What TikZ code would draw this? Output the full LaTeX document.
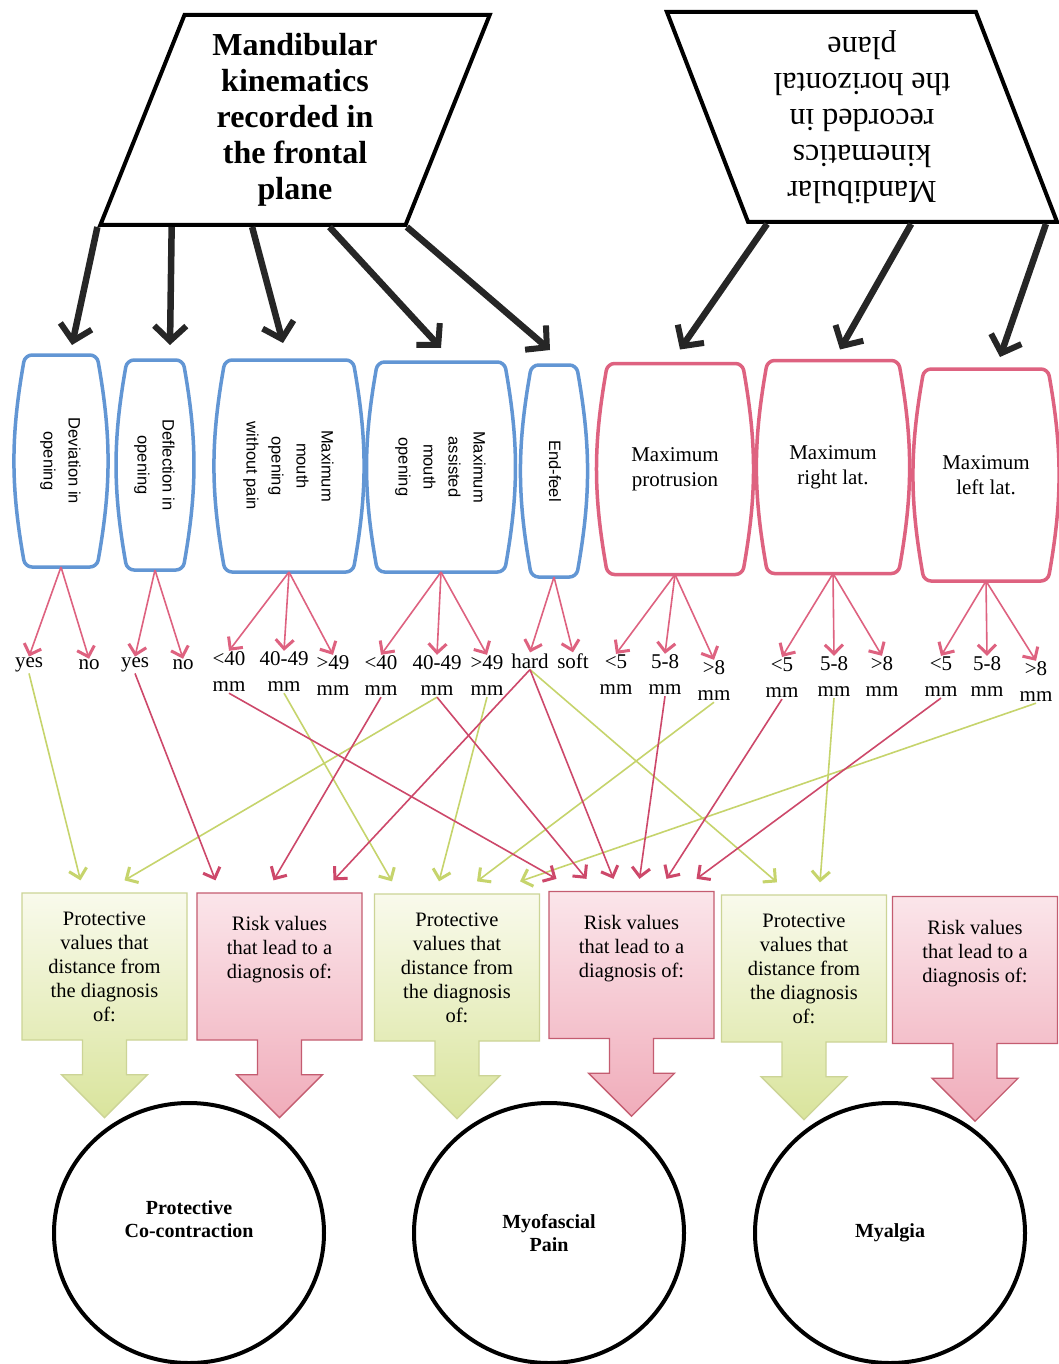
\documentclass[tikz,border=0pt]{standalone}
\usepackage{fontspec}
\setmainfont{Liberation Serif}
\newfontfamily\arialfont{Liberation Sans}
\usetikzlibrary{positioning,calc,arrows.meta,shapes.geometric,shapes.arrows}
\definecolor{kdark}{RGB}{38,38,38}
\definecolor{kblue}{RGB}{98,150,212}
\definecolor{kpink}{RGB}{222,98,128}
\definecolor{kred}{RGB}{205,72,106}
\definecolor{kgreen}{RGB}{198,212,108}
\definecolor{pfill}{RGB}{249,250,236}
\definecolor{pdraw}{RGB}{204,212,150}
\definecolor{parr}{RGB}{222,232,168}
\definecolor{rfill}{RGB}{248,212,220}
\definecolor{rdraw}{RGB}{196,92,112}
\definecolor{rarr}{RGB}{240,172,186}
\newcommand\sidetext[1]{\rotatebox{-90}{\arialfont\fontsize{16.5}{25}\selectfont\begin{tabular}{@{}c@{}}#1\end{tabular}}}
\tikzset{
  plane/.style={trapezium, trapezium stretches=true, draw, line width=4pt, fill=white,
    minimum width=391pt, minimum height=210pt, align=center, inner sep=0pt},
  darr/.style={draw=kdark, line width=6.5pt, -{Straight Barb[length=15pt,width=32pt,line width=6pt]}},
  fbox/.style={rectangle, inner sep=2pt, outer sep=0pt},
  mbox/.style={fbox, align=center, font=\fontsize{21}{25}\selectfont},
  barrel/.style={line width=3.5pt, line join=round, rounded corners=7pt},
  val/.style={font=\fontsize{21}{26}\selectfont, inner sep=1pt, align=center},
  tarr/.style={draw=kpink, line width=1.6pt, -{Straight Barb[length=9pt,width=18pt,line width=3pt]}},
  rlink/.style={draw=kred, line width=1.6pt, -{Straight Barb[length=9pt,width=18pt,line width=3pt]}},
  plink/.style={draw=kgreen, line width=1.6pt, -{Straight Barb[length=9pt,width=18pt,line width=3pt]}},
  outbox/.style={arrow box, line width=1.3pt, minimum width=165pt, minimum height=147pt, inner sep=0pt,
    arrow box north arrow=-1pt, arrow box east arrow=-1pt, arrow box west arrow=-1pt,
    arrow box south arrow=77pt, arrow box shaft width=44pt, arrow box head extend=21pt,
    align=center, font=\fontsize{20.5}{24}\selectfont},
  pbox/.style={outbox, draw=pdraw, top color=pfill, middle color=pfill!85!parr, bottom color=parr!80!kgreen},
  rbox/.style={outbox, draw=rdraw, top color=rfill!60!white, middle color=rfill, bottom color=rarr},
  diag/.style={ellipse, draw, line width=4pt, minimum width=270pt, minimum height=260pt,
    align=center, font=\bfseries\fontsize{20}{23}\selectfont}
}
\begin{document}
\begin{tikzpicture}[x=1pt,y=-1pt]
\useasboundingbox (0,0) rectangle (1059,1364);
\fill[white] (0,0) rectangle (1059,1364);

\node[plane, trapezium left angle=70, trapezium right angle=110, font=\bfseries\fontsize{32}{36}\selectfont]
  (frontal) at (295,120) {Mandibular\\kinematics\\recorded in\\the frontal\\plane};
\node[plane, trapezium left angle=110, trapezium right angle=70, rotate=180, font=\fontsize{32}{36}\selectfont]
  (horizontal) at (862,117) {Mandibular\\kinematics\\recorded in\\the horizontal\\plane};

\node[fbox, minimum width=72pt, minimum height=212pt] (dev) at (61,461) {\sidetext{Deviation in\\opening}};
\node[fbox, minimum width=56pt, minimum height=210pt] (defl) at (155,465) {\sidetext{Deflection in\\opening}};
\node[fbox, minimum width=128pt, minimum height=212pt] (mmo) at (289,466) {\sidetext{Maximum\\mouth\\opening\\without pain}};
\node[fbox, minimum width=127pt, minimum height=210pt] (mao) at (441,467) {\sidetext{Maximum\\assisted\\mouth\\opening}};
\node[fbox, minimum width=45pt, minimum height=212pt] (endfeel) at (554,471) {\sidetext{End-feel}};
\node[mbox, minimum width=135pt, minimum height=211pt] (prot) at (675,469) {Maximum\\protrusion};
\node[mbox, minimum width=131pt, minimum height=213pt] (rlat) at (833,467) {Maximum\\right lat.};
\node[mbox, minimum width=124pt, minimum height=212pt] (llat) at (986,475) {Maximum\\left lat.};
\foreach \n/\c in {dev/kblue,defl/kblue,mmo/kblue,mao/kblue,endfeel/kblue,prot/kpink,rlat/kpink,llat/kpink}
  \draw[barrel, draw=\c] (\n.north) -- (\n.north east) to[bend left=10] (\n.south east)
    -- (\n.south west) to[bend left=10] (\n.north west) -- (\n.north);

\draw[darr] (frontal.bottom left corner) -- ([xshift=11pt,yshift=10pt]dev.north);
\draw[darr] ($(frontal.bottom left corner)!.24!(frontal.bottom right corner)$) -- ([xshift=15pt,yshift=15pt]defl.north);
\draw[darr] ($(frontal.bottom left corner)!.5!(frontal.bottom right corner)$) -- ([xshift=-6pt,yshift=17pt]mmo.north);
\draw[darr] ($(frontal.bottom left corner)!.75!(frontal.bottom right corner)$) -- ([yshift=14pt]mao.north);
\draw[darr] (frontal.bottom right corner) -- ([xshift=-4pt,yshift=15pt]endfeel.north);
\draw[darr] ($(horizontal.top right corner)!.065!(horizontal.top left corner)$) -- ([xshift=5pt,yshift=14pt]prot.north);
\draw[darr] ($(horizontal.top right corner)!.525!(horizontal.top left corner)$) -- ([xshift=7pt,yshift=11pt]rlat.north);
\draw[darr] ($(horizontal.top right corner)!.955!(horizontal.top left corner)$) -- ([xshift=14pt,yshift=12pt]llat.north);

\node[val] (dev-yes) at (29,665) {yes};
\node[val] (dev-no) at (89,665) {no};
\node[val] (defl-yes) at (135,665) {yes};
\node[val] (defl-no) at (183,665) {no};
\node[val] (mmo-a) at (229,672) {<40\\mm};
\node[val] (mmo-b) at (284,672) {40-49\\mm};
\node[val] (mmo-c) at (333,676) {>49\\mm};
\node[val] (mao-a) at (381,676) {<40\\mm};
\node[val] (mao-b) at (437,676) {40-49\\mm};
\node[val] (mao-c) at (487,676) {>49\\mm};
\node[val] (ef-hard) at (530,661) {hard};
\node[val] (ef-soft) at (573,661) {soft};
\node[val] (prot-a) at (616,675) {<5\\mm};
\node[val] (prot-b) at (665,675) {5-8\\mm};
\node[val] (prot-c) at (714,681) {>8\\mm};
\node[val] (rlat-a) at (782,678) {<5\\mm};
\node[val] (rlat-b) at (834,677) {5-8\\mm};
\node[val] (rlat-c) at (882,677) {>8\\mm};
\node[val] (llat-a) at (941,677) {<5\\mm};
\node[val] (llat-b) at (987,677) {5-8\\mm};
\node[val] (llat-c) at (1036,682) {>8\\mm};

\foreach \b/\v in {dev/dev-yes,dev/dev-no,defl/defl-yes,defl/defl-no,mmo/mmo-a,mmo/mmo-b,mmo/mmo-c,
  mao/mao-a,mao/mao-b,mao/mao-c,endfeel/ef-hard,endfeel/ef-soft,prot/prot-a,prot/prot-b,prot/prot-c,
  rlat/rlat-a,rlat/rlat-b,rlat/rlat-c,llat/llat-a,llat/llat-b,llat/llat-c}
  \draw[tarr] (\b.south) -- (\v.north);

\node[diag] (cocon) at (189,1233) {Protective\\Co-contraction\\[5pt]~};
\node[diag] (myof) at (549,1233) {Myofascial\\Pain};
\node[diag] (myal) at (890,1233) {Myalgia};

\node[pbox] (prot1) at (104.5,966.5) {Protective\\values that\\distance from\\the diagnosis\\of:};
\node[rbox] (risk1) at (279.5,966.5) {Risk values\\that lead to a\\diagnosis of:\\[14pt]~};
\node[pbox] (prot2) at (457,967.5) {Protective\\values that\\distance from\\the diagnosis\\of:};
\node[rbox] (risk2) at (631.5,965) {Risk values\\that lead to a\\diagnosis of:\\[14pt]~};
\node[pbox] (prot3) at (804,968.5) {Protective\\values that\\distance from\\the diagnosis\\of:};
\node[rbox] (risk3) at (975,970) {Risk values\\that lead to a\\diagnosis of:\\[14pt]~};

\foreach \s/\t/\dx in {dev-yes/prot1/-24,mao-b/prot1/20,mmo-b/prot2/-65,mao-c/prot2/-18,
  prot-c/prot2/20,llat-c/prot2/63,ef-hard/prot3/-27,rlat-b/prot3/16}
  \draw[plink] (\s.south) -- ([xshift=\dx pt,yshift=12pt]\t.north);
\foreach \s/\t/\dx in {defl-yes/risk1/-64,mao-a/risk1/-6,ef-hard/risk1/54,mmo-a/risk2/-75,
  mao-b/risk2/-45,ef-hard/risk2/-18,prot-b/risk2/8,rlat-a/risk2/35,llat-a/risk2/65}
  \draw[rlink] (\s.south) -- ([xshift=\dx pt,yshift=12pt]\t.north);
\end{tikzpicture}
\end{document}
